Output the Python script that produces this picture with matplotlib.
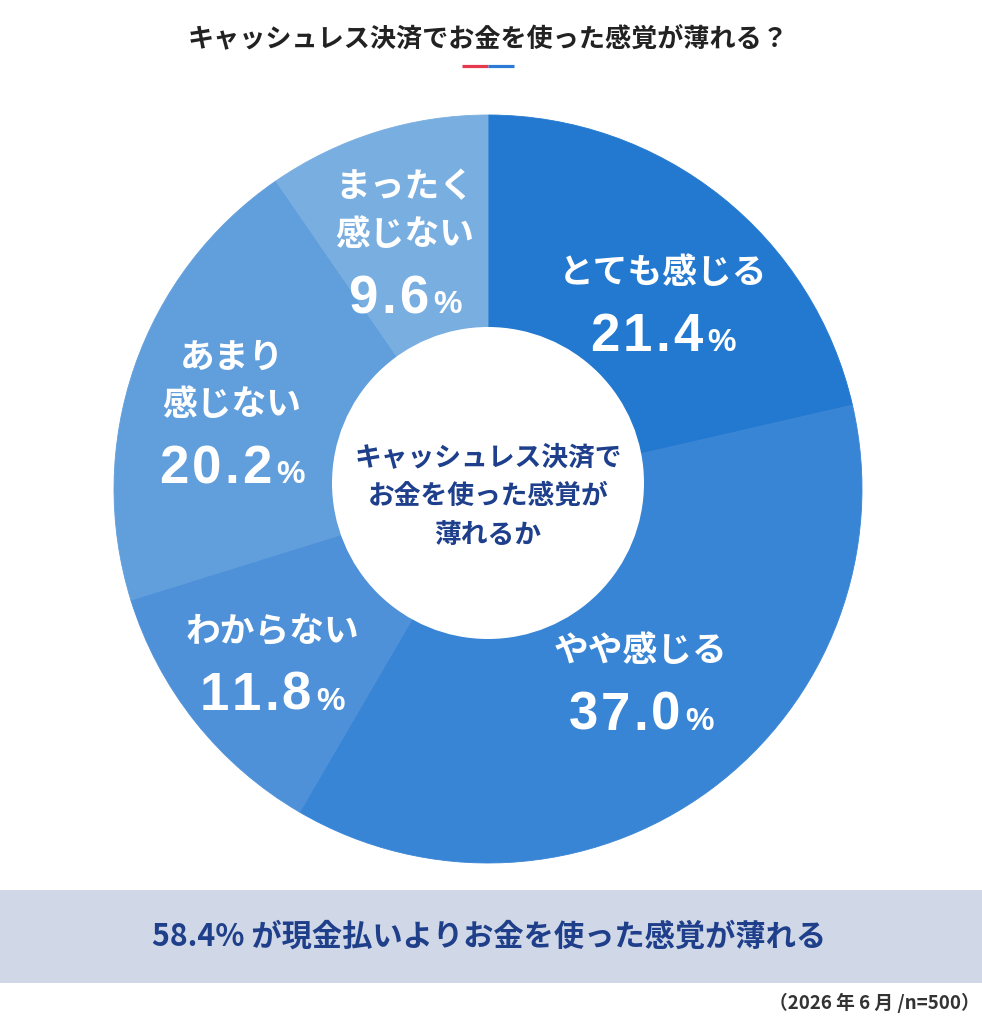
import matplotlib
matplotlib.use('Agg')
import matplotlib.pyplot as plt
from matplotlib.patches import Circle, Rectangle

plt.rcParams['font.family'] = ['Noto Sans CJK JP', 'DejaVu Sans']

# data
labels = ['とても感じる', 'やや感じる', 'わからない', 'あまり\n感じない', 'まったく\n感じない']
values = [21.4, 37.0, 11.8, 20.2, 9.6]
colors = ['#2379D0', '#3985D5', '#4E91D9', '#619EDC', '#79AEE1']

title = 'キャッシュレス決済でお金を使った感覚が薄れる？'
center_text = 'キャッシュレス決済で\nお金を使った感覚が\n薄れるか'
summary = '58.4% が現金払いよりお金を使った感覚が薄れる'
note = '（2026 年 6 月 /n=500）'

W, H = 982, 1024
# pixel -> axes coords (y measured from top)
def py(y):
    return H - y

# where each slice label sits (x, y of the number line, in pixels from top)
label_xy = [(663, 333), (641, 712), (272, 692), (232, 465), (405, 295)]

fig = plt.figure(figsize=(W / 100, H / 100), dpi=100)
ax = fig.add_axes([0, 0, 1, 1])

wedges, _ = ax.pie(values, colors=colors, startangle=90, counterclock=False,
                   center=(488, py(489)), radius=374,
                   wedgeprops=dict(linewidth=0.6))
for w in wedges:
    w.set_edgecolor(w.get_facecolor())
ax.add_patch(Circle((488, py(483)), 156, facecolor='white', edgecolor='none', zorder=3))

ax.set_xlim(0, W)
ax.set_ylim(0, H)
ax.set_aspect('equal')
ax.axis('off')

# header
ax.text(488, py(40), title, ha='center', va='center', fontsize=18.8,
        fontweight='bold', color='#222222')
ax.plot([462, 488], [py(66), py(66)], color='#E5394F', lw=2.3, solid_capstyle='butt')
ax.plot([488, 514], [py(66), py(66)], color='#2B7BD6', lw=2.3, solid_capstyle='butt')

# centre text
ax.text(488, py(496), center_text, ha='center', va='center', fontsize=19.3,
        fontweight='bold', color='#1E3F8C', linespacing=1.5, zorder=4)

# slice labels
fig.canvas.draw()
renderer = fig.canvas.get_renderer()
track = 3
for lab, val, (x, y) in zip(labels, values, label_xy):
    lines = lab.split('\n')
    for i, line in enumerate(reversed(lines)):
        ax.text(x, py(y - 61 - 47 * i), line, ha='center', va='center',
                fontsize=25, fontweight='bold', color='white', zorder=4)
    # number drawn glyph by glyph so it gets a little letter spacing
    parts = []
    for ch in f'{val:.1f}':
        parts.append(ax.text(x, py(y + 18), ch, ha='left', va='baseline',
                             fontsize=38, fontweight='bold', color='white',
                             family=['Liberation Sans'], zorder=4))
    parts.append(ax.text(x, py(y + 18), '%', ha='left', va='baseline',
                         fontsize=23, fontweight='bold', color='white',
                         family=['Liberation Sans'], zorder=4))
    widths = [t.get_window_extent(renderer).width for t in parts]
    total = sum(widths) + track * (len(parts) - 1) + 2
    cx = x - total / 2
    for k, (t, wd) in enumerate(zip(parts, widths)):
        if k == len(parts) - 1:
            cx += 2
        t.set_x(cx)
        cx += wd + track

# bottom banner
ax.add_patch(Rectangle((0, py(983)), W, 93, facecolor='#D0D8E8', edgecolor='none'))
ax.text(489, py(937), summary, ha='center', va='center', fontsize=21.8,
        fontweight='bold', color='#1F3F8A')

ax.text(980, py(1003), note, ha='right', va='center', fontsize=13.5,
        fontweight='bold', color='#333333')

fig.savefig('out.png', dpi=100)
